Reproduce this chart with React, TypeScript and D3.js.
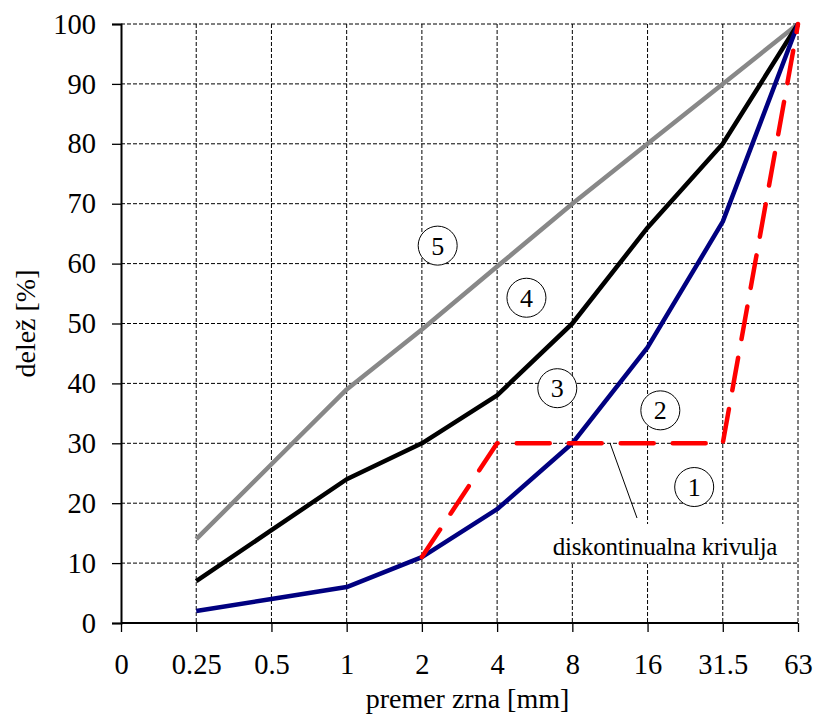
import { useEffect, useRef } from "react";
import * as d3 from "d3";

// grain size categories (equally spaced on the axis)
const sizes = ["0", "0.25", "0.5", "1", "2", "4", "8", "16", "31.5", "63"];
const yTicks = [0, 10, 20, 30, 40, 50, 60, 70, 80, 90, 100];

// passing share [%] per size, null = no point
const curve5 = [null, 14, 26.5, 39, 49, 59.5, 70, 80, 90, 100];
const curve4 = [null, 7, 15.5, 24, 30, 38, 50, 66, 80, 100];
const curve3 = [null, 2, 4, 6, 11, 19, 30, 46, 67, 100];
const gapGraded = [null, null, null, null, 11, 30, 30, 30, 30, 100];

// circled curve numbers: [label, position along x axis (index), value]
const curveLabels: [string, number, number][] = [
  ["5", 4.21, 63],
  ["4", 5.39, 54.3],
  ["3", 5.8, 39.2],
  ["2", 7.17, 35.5],
  ["1", 7.62, 22.7],
];

const W = 814;
const H = 715;
const margin = { top: 24, right: 16, bottom: 92, left: 121 };
const font = "'Liberation Serif', 'Times New Roman', serif";

export default function App() {
  const ref = useRef<SVGSVGElement>(null);

  useEffect(() => {
    const svg = d3.select(ref.current);
    svg.selectAll("*").remove();

    const x0 = margin.left;
    const x1 = W - margin.right;
    const y0 = H - margin.bottom;
    const y1 = margin.top;

    const x = d3.scalePoint<string>().domain(sizes).range([x0, x1]);
    const xIdx = d3.scaleLinear().domain([0, sizes.length - 1]).range([x0, x1]);
    const y = d3.scaleLinear().domain([0, 100]).range([y0, y1]);

    // grid
    const grid = svg.append("g");
    grid.selectAll("line.h")
      .data(yTicks.slice(1))
      .join("line")
      .attr("x1", x0)
      .attr("x2", x1)
      .attr("y1", d => y(d))
      .attr("y2", d => y(d))
      .attr("stroke", "#000")
      .attr("stroke-width", 1)
      .attr("stroke-dasharray", "4 2");
    grid.selectAll("line.v")
      .data(sizes.slice(1))
      .join("line")
      .attr("x1", d => x(d)!)
      .attr("x2", d => x(d)!)
      .attr("y1", y1)
      .attr("y2", y0)
      .attr("stroke", "#000")
      .attr("stroke-width", 1)
      .attr("stroke-dasharray", "4 2");

    // white box behind the callout text
    svg.append("rect")
      .attr("x", 543)
      .attr("y", 524)
      .attr("width", 244)
      .attr("height", 38)
      .attr("fill", "#fff");

    // y axis
    const yAxis = svg.append("g").attr("transform", `translate(${x0},0)`)
      .call(d3.axisLeft(y).tickValues(yTicks).tickSize(9).tickPadding(16));
    yAxis.select(".domain").attr("stroke-width", 2);
    yAxis.selectAll(".tick line").attr("stroke-width", 1.3);
    yAxis.selectAll("text")
      .attr("font-family", font)
      .attr("font-size", 28.5)
      .attr("fill", "#000");

    // x axis
    const xAxis = svg.append("g").attr("transform", `translate(0,${y0})`)
      .call(d3.axisBottom(x).tickSize(9).tickPadding(22));
    xAxis.select(".domain").attr("stroke-width", 2).attr("d", `M${x0},0H${x1}`);
    xAxis.selectAll(".tick line").attr("stroke-width", 1.3);
    xAxis.selectAll("text")
      .attr("font-family", font)
      .attr("font-size", 28.5)
      .attr("fill", "#000");

    const line = d3.line<number | null>()
      .defined(d => d !== null)
      .x((_, i) => x(sizes[i])!)
      .y(d => y(d as number));

    const series = [
      { data: curve5, color: "#888888", dash: null },
      { data: curve4, color: "#000000", dash: null },
      { data: curve3, color: "#000080", dash: null },
      { data: gapGraded, color: "#ff0000", dash: "33 19" },
    ];
    svg.selectAll("path.curve")
      .data(series)
      .join("path")
      .attr("class", "curve")
      .attr("d", d => line(d.data))
      .attr("fill", "none")
      .attr("stroke", d => d.color)
      .attr("stroke-width", 4.5)
      .attr("stroke-dasharray", d => d.dash)
      .attr("stroke-linecap", d => (d.dash ? "round" : "butt"))
      .attr("stroke-linejoin", "round");

    // circled labels
    const lbl = svg.selectAll("g.lbl")
      .data(curveLabels)
      .join("g")
      .attr("transform", d => `translate(${xIdx(d[1])},${y(d[2])})`);
    lbl.append("circle")
      .attr("r", 19.5)
      .attr("fill", "#fff")
      .attr("stroke", "#000")
      .attr("stroke-width", 1);
    lbl.append("text")
      .attr("text-anchor", "middle")
      .attr("dy", "0.35em")
      .attr("font-family", font)
      .attr("font-size", 26)
      .text(d => d[0]);

    // callout
    svg.append("line")
      .attr("x1", 610).attr("y1", 443)
      .attr("x2", 637).attr("y2", 518)
      .attr("stroke", "#000")
      .attr("stroke-width", 1);
    svg.append("text")
      .attr("x", 665)
      .attr("y", 555)
      .attr("text-anchor", "middle")
      .attr("font-family", font)
      .attr("font-size", 25)
      .attr("letter-spacing", -0.3)
      .text("diskontinualna krivulja");

    // axis titles
    svg.append("text")
      .attr("x", (x0 + x1) / 2 + 8)
      .attr("y", 708)
      .attr("text-anchor", "middle")
      .attr("font-family", font)
      .attr("font-size", 28)
      .text("premer zrna [mm]");
    svg.append("text")
      .attr("transform", `translate(35,${(y0 + y1) / 2}) rotate(-90)`)
      .attr("text-anchor", "middle")
      .attr("font-family", font)
      .attr("font-size", 28)
      .text("delež [%]");
  }, []);

  return (
    <svg
      ref={ref}
      width={W}
      height={H}
      style={{ position: "absolute", left: 0, top: 0, background: "#fff" }}
    />
  );
}
